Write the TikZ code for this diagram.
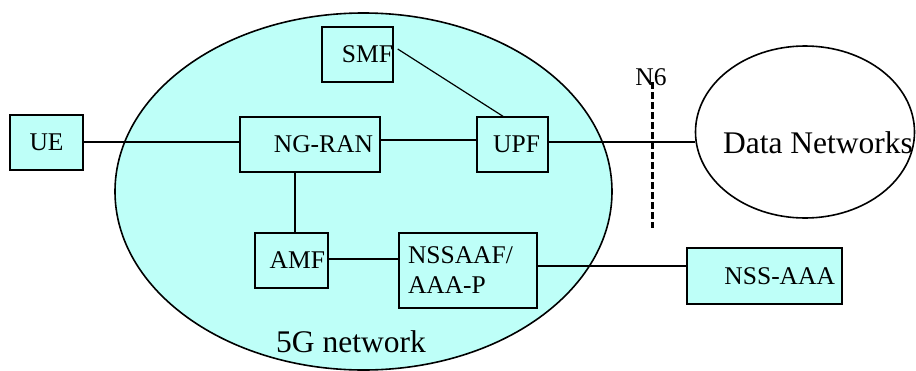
\documentclass[tikz,border=0pt]{standalone}
\usepackage{fontspec}
\setmainfont{Liberation Serif}
\usetikzlibrary{shapes.geometric}
\definecolor{netcyan}{RGB}{190,255,248}
\begin{document}
\begin{tikzpicture}[x=1pt,y=-1pt,
  nf/.style={draw=black, line width=1.4pt, fill=netcyan, inner sep=0pt,
    minimum height=55pt, font=\fontsize{25.5pt}{30pt}\selectfont},
  link/.style={draw=black, line width=1.2pt},
  cloud/.style={ellipse, draw=black, line width=1.6pt, inner sep=0pt},
  bigtext/.style={font=\fontsize{31.5pt}{36pt}\selectfont, inner sep=0pt, anchor=base},
  smalltext/.style={font=\fontsize{25.5pt}{30pt}\selectfont, inner sep=0pt, anchor=base}
]
\useasboundingbox (0,0) rectangle (916,370);

% 5G network area
\node[cloud, fill=netcyan, minimum width=497pt, minimum height=357pt] (net) at (363.5,191.5) {};
\node[bigtext] (nettext) at (351,352) {5G network};

% Data networks
\node[cloud, fill=white, minimum width=219pt, minimum height=172pt] (dn) at (805,132) {};
\node[bigtext] (dntext) at (818,153) {Data Networks};

% functions
\node[nf, minimum width=73pt] (ue) at (46.5,142.5) {\makebox[73pt][c]{UE}};
\node[nf, minimum width=71pt] (smf) at (357.5,54.5) {\makebox[71pt][r]{SMF}};
\node[nf, minimum width=140pt] (ngran) at (310,144.5) {\makebox[140pt][r]{NG-RAN\hspace{7pt}}};
\node[nf, minimum width=71pt] (upf) at (512.5,144.5) {\makebox[71pt][r]{UPF\hspace{8pt}}};
\node[nf, minimum width=73pt] (amf) at (291.5,260.5) {\makebox[73pt][r]{AMF\hspace{3pt}}};
\node[nf, minimum width=138pt, minimum height=75pt, text width=120pt, align=left] (nssaaf) at (468,270.5) {NSSAAF/\\AAA-P};
\node[nf, minimum width=155pt, minimum height=56pt] (nssaaa) at (764.5,276) {\makebox[155pt][r]{NSS-AAA\hspace{7pt}}};

% connectors
\draw[link] ([yshift=0.5pt]ue.east) -- ([yshift=0.5pt]ue.east -| ngran.west);
\draw[link] ([yshift=4.5pt]ngran.east) -- ([yshift=4.5pt]upf.west);
\draw[link] ([yshift=2.5pt]upf.east) -- ([yshift=2.5pt]upf.east -| dn.west);
\draw[link] ([shift={(4pt,5.5pt)}]smf.east) -- ([xshift=-9.5pt]upf.north);
\draw[link] ([xshift=-15pt]ngran.south) -- ([xshift=-15pt]ngran.south |- amf.north);
\draw[link] ([yshift=1.5pt]amf.east) -- ([yshift=1.5pt]amf.east -| nssaaf.west);
\draw[link] ([yshift=4.5pt]nssaaf.east) -- ([yshift=4.5pt]nssaaf.east -| nssaaa.west);

% N6 reference point
\node[smalltext] (n6) at (651,85) {N6};
\coordinate (n6top) at (652,82);
\coordinate (n6bot) at (652,228);
\draw[line width=3pt, dash pattern=on 6.5pt off 3.5pt] (n6top) -- (n6bot);
\end{tikzpicture}
\end{document}
